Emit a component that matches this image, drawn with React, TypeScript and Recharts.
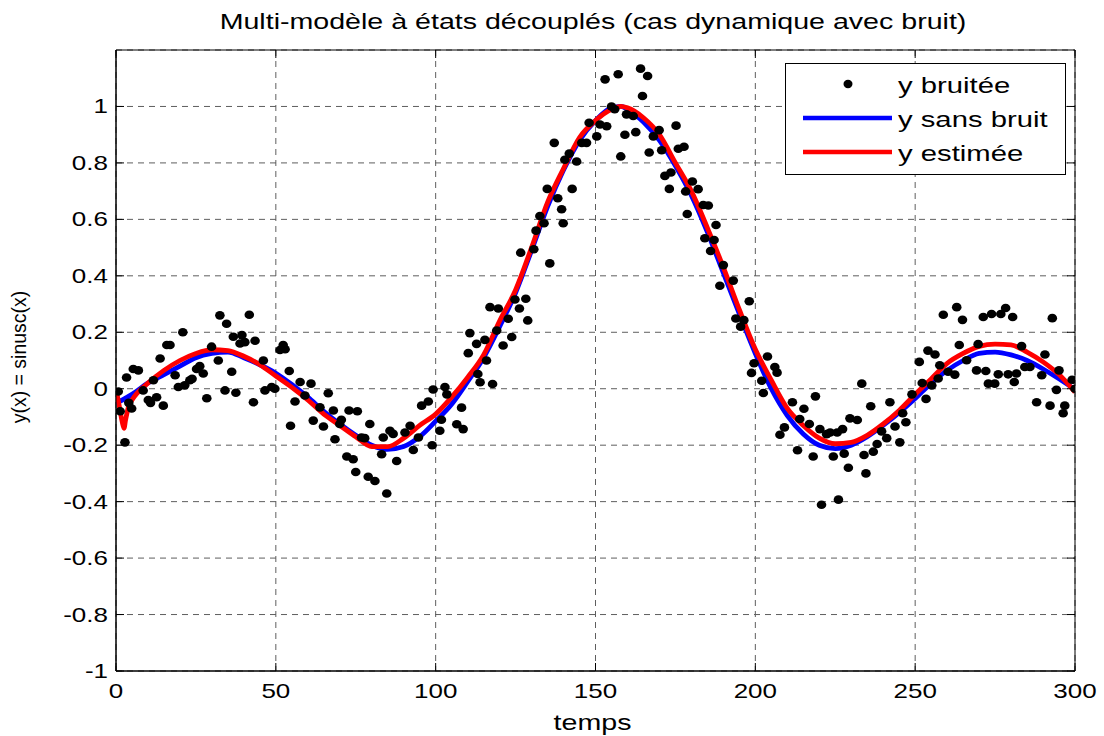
import React from 'react';
import {
  ComposedChart, Line, Scatter, XAxis, YAxis, CartesianGrid, Legend, ReferenceArea,
} from 'recharts';

// ---------- data ----------
const X_TICKS = [0, 50, 100, 150, 200, 250, 300];
const Y_TICKS = [-1, -0.8, -0.6, -0.4, -0.2, 0, 0.2, 0.4, 0.6, 0.8, 1];

const T_SANS_BRUIT = [0, 2, 5, 10, 15, 20, 25, 30, 35, 40, 45, 50, 55, 60, 65, 70, 75, 80, 85, 90, 95, 100, 105, 110, 115, 120, 125, 130, 135, 140, 145, 150, 155, 158, 160, 165, 170, 175, 180, 185, 190, 195, 200, 205, 210, 215, 220, 225, 230, 235, 240, 245, 250, 255, 260, 265, 270, 275, 280, 285, 290, 295, 300];
const Y_SANS_BRUIT = [-0.05, -0.04, -0.02, 0.02, 0.05, 0.08, 0.11, 0.125, 0.13, 0.11, 0.085, 0.055, 0.015, -0.03, -0.08, -0.125, -0.165, -0.2, -0.215, -0.205, -0.17, -0.115, -0.055, 0.025, 0.11, 0.22, 0.34, 0.49, 0.645, 0.775, 0.88, 0.95, 0.995, 1.0, 0.99, 0.945, 0.88, 0.79, 0.685, 0.555, 0.41, 0.265, 0.125, 0.0, -0.095, -0.16, -0.2, -0.212, -0.2, -0.17, -0.13, -0.085, -0.035, 0.02, 0.065, 0.1, 0.125, 0.13, 0.12, 0.1, 0.07, 0.035, -0.003];

const T_ESTIMEE = [0, 1, 2, 2.5, 3, 4, 5, 10, 15, 20, 25, 30, 35, 40, 45, 50, 55, 60, 65, 70, 75, 80, 85, 90, 95, 100, 105, 110, 115, 120, 125, 130, 135, 140, 145, 150, 155, 158, 160, 165, 170, 175, 180, 185, 190, 195, 200, 205, 210, 215, 220, 225, 230, 235, 240, 245, 250, 255, 260, 265, 270, 275, 280, 285, 290, 295, 300];
const Y_ESTIMEE = [0.0, -0.06, -0.12, -0.14, -0.11, -0.06, -0.04, 0.02, 0.065, 0.1, 0.125, 0.138, 0.135, 0.115, 0.085, 0.045, 0.005, -0.04, -0.09, -0.13, -0.17, -0.205, -0.205, -0.175, -0.13, -0.09, -0.03, 0.04, 0.12, 0.24, 0.35, 0.5, 0.66, 0.78, 0.89, 0.95, 0.99, 1.0, 0.995, 0.96, 0.9, 0.8, 0.7, 0.57, 0.43, 0.28, 0.14, 0.03, -0.07, -0.13, -0.175, -0.195, -0.19, -0.165, -0.125, -0.077, -0.02, 0.035, 0.09, 0.125, 0.15, 0.158, 0.155, 0.13, 0.095, 0.05, -0.012];

const T_BRUITEE = [0.7, 1.3, 2.8, 3.3, 4.0, 4.9, 5.4, 7.0, 8.5, 10.1, 10.8, 11.7, 12.7, 13.8, 14.8, 15.9, 16.9, 18.5, 19.5, 20.9, 21.5, 23.1, 23.8, 25.2, 26.2, 27.3, 28.4, 29.9, 32.0, 32.5, 34.1, 34.6, 36.2, 36.7, 37.5, 38.8, 39.4, 40.3, 41.7, 43.0, 43.5, 46.1, 46.6, 48.7, 49.7,
  51.3, 52.3, 52.9, 54.2, 54.6, 56.0, 57.6, 59.1, 61.0, 61.7, 63.8, 64.9, 66.4, 68.0, 68.5, 70.0, 70.5, 72.2, 72.9, 74.2, 75.0, 75.5, 76.8, 77.8, 78.9, 79.4, 81.0, 83.1, 83.6, 84.7, 85.7, 86.7, 87.8, 90.4, 92.0, 93.0, 94.6, 95.6, 97.7, 98.9, 99.2,
  101.3, 101.8, 102.9, 103.5, 106.6, 108.1, 108.6, 110.2, 110.7, 112.8, 113.2, 113.9, 115.4, 115.9, 117.0, 117.8, 119.1, 119.6, 121.1, 122.7, 123.8, 124.8, 126.2, 126.6, 128.2, 128.8, 130.7, 131.4, 132.6, 133.9, 134.9, 135.7, 137.1, 138.2, 139.4, 139.9, 140.4, 141.8, 142.7, 144.1, 145.7, 147.2, 148.0,
  150.4, 151.4, 153.0, 153.5, 155.0, 156.0, 157.1, 157.9, 159.2, 159.7, 161.8, 162.6, 164.1, 164.7, 166.3, 166.8, 168.1, 169.9, 170.7, 171.7, 173.1, 173.6, 175.2, 175.9, 177.7, 178.2, 178.7, 180.3, 182.1, 183.7, 184.2, 185.3, 186.0, 187.1, 187.7, 188.9, 190.0, 193.1, 193.9, 195.4, 196.4, 198.1, 198.8, 199.6,
  202.0, 202.5, 203.8, 206.1, 206.8, 207.7, 209.1, 211.6, 213.2, 213.9, 215.2, 216.9, 218.1, 218.8, 220.2, 220.7, 222.3, 223.4, 224.4, 225.6, 226.0, 227.3, 227.8, 229.1, 229.6, 231.9, 233.3, 234.0, 234.6, 236.1, 236.9, 238.1, 239.5, 241.1, 242.1, 243.7, 245.2, 246.1, 247.1, 249.0,
  251.3, 252.2, 253.4, 254.0, 255.2, 256.2, 257.2, 257.7, 258.8, 260.3, 262.4, 263.0, 263.8, 264.8, 266.1, 269.2, 269.7, 271.3, 272.1, 272.9, 273.9, 274.9, 276.0, 276.8, 278.3, 279.1, 280.5, 281.0, 281.7, 283.3, 284.3, 285.9, 288.0, 289.6, 290.6, 292.2, 292.9, 294.2, 295.0, 296.3, 296.8, 299.1, 300];
const Y_BRUITEE = [-0.01, -0.08, -0.19, 0.04, -0.05, -0.07, 0.07, 0.065, -0.006, -0.04, -0.05, 0.03, -0.03, 0.107, -0.06, 0.155, 0.155, 0.048, 0.006, 0.2, 0.012, 0.03, 0.035, 0.07, 0.08, 0.054, -0.034, 0.149, 0.1, 0.26, -0.006, 0.23, 0.06, 0.184, -0.014, 0.16, 0.19, 0.165, 0.262, -0.048, 0.17, 0.1, -0.006, 0.006, 0.0,
  0.137, 0.155, 0.14, 0.063, -0.131, -0.045, 0.024, -0.024, 0.018, -0.113, -0.066, -0.134, -0.016, -0.077, -0.179, -0.125, -0.11, -0.24, -0.077, -0.25, -0.295, -0.08, -0.173, -0.175, -0.312, -0.125, -0.327, -0.232, -0.173, -0.371, -0.149, -0.16, -0.256, -0.155, -0.131, -0.217, -0.173, -0.06, -0.045, -0.2, -0.003,
  -0.149, -0.11, 0.006, -0.02, -0.126, -0.067, -0.143, 0.126, 0.197, 0.159, 0.052, 0.023, 0.173, 0.1, 0.289, 0.017, 0.206, 0.284, 0.153, 0.248, 0.183, 0.316, 0.284, 0.482, 0.319, 0.242, 0.494, 0.56, 0.612, 0.586, 0.708, 0.444, 0.871, 0.675, 0.636, 0.586, 0.811, 0.833, 0.708, 0.805, 0.871, 0.871, 0.942,
  0.894, 0.936, 1.096, 0.93, 1.0, 0.99, 1.114, 0.823, 0.9, 0.972, 0.966, 0.909, 1.134, 1.037, 1.108, 0.837, 0.894, 0.916, 0.845, 0.754, 0.708, 0.766, 0.932, 0.85, 0.857, 0.699, 0.619, 0.734, 0.707, 0.651, 0.533, 0.649, 0.488, 0.527, 0.58, 0.365, 0.438, 0.383, 0.249, 0.22, 0.243, 0.31, 0.056, 0.09,
  0.028, -0.015, 0.114, 0.077, 0.057, -0.163, -0.137, -0.048, -0.218, -0.107, -0.071, -0.125, -0.24, -0.027, -0.143, -0.411, -0.161, -0.155, -0.24, -0.155, -0.393, -0.143, -0.23, -0.28, -0.105, -0.111, 0.018, -0.235, -0.3, -0.062, -0.223, -0.196, -0.151, -0.175, -0.048, -0.134, -0.19, -0.087, -0.119, -0.02,
  0.095, 0.02, -0.036, 0.135, 0.012, 0.121, 0.036, 0.083, 0.262, 0.06, 0.05, 0.289, 0.155, 0.244, 0.101, 0.065, 0.158, 0.254, 0.063, 0.018, 0.265, 0.018, 0.051, 0.265, 0.286, 0.051, 0.254, 0.024, 0.054, 0.151, 0.077, 0.077, -0.048, 0.048, 0.121, -0.06, 0.25, -0.004, 0.065, -0.087, -0.06, 0.032, 0.0];

const TITLE = 'Multi-modèle à états découplés (cas dynamique avec bruit)';
const X_LABEL = 'temps';
const Y_LABEL = 'y(x) = sinusc(x)';
const LEGEND_LABELS = ['y bruitée', 'y sans bruit', 'y estimée'];

const sansBruit = T_SANS_BRUIT.map((t, i) => ({ t, v: Y_SANS_BRUIT[i] }));
const estimee = T_ESTIMEE.map((t, i) => ({ t, v: Y_ESTIMEE[i] }));
const bruitee = T_BRUITEE.map((t, i) => ({ t, v: Y_BRUITEE[i] }));

// ---------- layout ----------
const W = 1104;
const H = 736;
const PLOT_LEFT = 116;
const PLOT_TOP = 50;
const PLOT_RIGHT = 1075;
const PLOT_BOTTOM = 671;
const TICK_LEN = 8;
const FONT = '"Liberation Sans", Arial, Helvetica, sans-serif';
const SX = 1.3;

const XTick = (props: any) => {
  const { x, payload } = props;
  return (
    <g>
      <line x1={x} x2={x} y1={PLOT_BOTTOM} y2={PLOT_BOTTOM - TICK_LEN} stroke="#000" strokeWidth={1} />
      <line x1={x} x2={x} y1={PLOT_TOP} y2={PLOT_TOP + TICK_LEN} stroke="#000" strokeWidth={1} />
      <text transform={`translate(${x} ${PLOT_BOTTOM + 27}) scale(${SX} 1)`} textAnchor="middle"
        fontSize={20} fontFamily={FONT} fill="#000">{String(payload.value)}</text>
    </g>
  );
};

const YTick = (props: any) => {
  const { y, payload } = props;
  return (
    <g>
      <line x1={PLOT_LEFT} x2={PLOT_LEFT + TICK_LEN} y1={y} y2={y} stroke="#000" strokeWidth={1} />
      <line x1={PLOT_RIGHT - TICK_LEN} x2={PLOT_RIGHT} y1={y} y2={y} stroke="#000" strokeWidth={1} />
      <text transform={`translate(${PLOT_LEFT - 8} ${y + 7}) scale(${SX} 1)`} textAnchor="end"
        fontSize={20} fontFamily={FONT} fill="#000">{String(payload.value)}</text>
    </g>
  );
};

const Dot = (props: any) => {
  const { cx, cy } = props;
  if (cx == null || cy == null) return null;
  return <ellipse cx={cx} cy={cy} rx={4.8} ry={4.3} fill="#000" />;
};

const LEG_L = 785;
const LEG_T = 63;
const LEG_W = 281;
const LEG_H = 112;

const LegendBox = () => {
  const rows = [21, 55, 89];
  const textStyle = { fontSize: 22, fontFamily: FONT, fill: '#000' } as any;
  return (
    <svg width={LEG_W} height={LEG_H} style={{ display: 'block' }}>
      <rect x={0.5} y={0.5} width={LEG_W - 1} height={LEG_H - 1} fill="#fff" stroke="#000" strokeWidth={1} />
      <ellipse cx={63} cy={rows[0]} rx={4.5} ry={4.2} fill="#000" />
      <line x1={18} x2={107} y1={rows[1]} y2={rows[1]} stroke="#0000ff" strokeWidth={4.5} />
      <line x1={18} x2={107} y1={rows[2]} y2={rows[2]} stroke="#ff0000" strokeWidth={4.5} />
      {LEGEND_LABELS.map((lab, i) => (
        <text key={lab} transform={`translate(113 ${rows[i] + 8.5}) scale(1.33 1)`} {...textStyle}>{lab}</text>
      ))}
    </svg>
  );
};

export default function App() {
  return (
    <div style={{ position: 'absolute', left: 0, top: 0, width: W, height: H, background: '#fff' }}>
      <ComposedChart width={W} height={H} margin={{ top: PLOT_TOP, right: W - PLOT_RIGHT, bottom: 0, left: 0 }}>
        <CartesianGrid stroke="#5e5e5e" strokeDasharray="6 5" strokeWidth={1} />
        <XAxis dataKey="t" type="number" domain={[0, 300]} ticks={X_TICKS} interval={0}
          height={H - PLOT_BOTTOM} axisLine={{ stroke: '#000' }} tickLine={false} tick={<XTick />} allowDataOverflow />
        <YAxis type="number" domain={[-1, 1.2]} ticks={Y_TICKS} interval={0} width={PLOT_LEFT}
          axisLine={{ stroke: '#000' }} tickLine={false} tick={<YTick />} allowDataOverflow />
        <ReferenceArea x1={0} x2={300} y1={-1} y2={1.2} fill="none" stroke="#000" strokeWidth={1} fillOpacity={0} />
        <Scatter data={bruitee} dataKey="v" fill="#000" shape={<Dot />} isAnimationActive={false} legendType="circle" name="y bruitée" />
        <Line data={sansBruit} dataKey="v" type="monotone" stroke="#0000ff" strokeWidth={4.8} dot={false}
          activeDot={false} isAnimationActive={false} name="y sans bruit" />
        <Line data={estimee} dataKey="v" type="monotone" stroke="#ff0000" strokeWidth={4.8} dot={false}
          activeDot={false} isAnimationActive={false} name="y estimée" />
        <Legend layout="vertical" align="center" verticalAlign="middle" content={() => <LegendBox />}
          wrapperStyle={{ position: 'absolute', left: LEG_L, top: LEG_T, width: LEG_W, height: LEG_H, margin: 0, padding: 0 }} />
      </ComposedChart>
      <svg width={W} height={H} style={{ position: 'absolute', left: 0, top: 0, pointerEvents: 'none' }}>
        <text transform={`translate(593 29) scale(1.3 1)`} textAnchor="middle" fontSize={22} fontFamily={FONT} fill="#000">{TITLE}</text>
        <text transform={`translate(592.5 730) scale(1.3 1)`} textAnchor="middle" fontSize={22} fontFamily={FONT} fill="#000">{X_LABEL}</text>
        <text transform="translate(26 357) rotate(-90)" textAnchor="middle" fontSize={19.5} fontFamily={FONT} fill="#000">{Y_LABEL}</text>
      </svg>
    </div>
  );
}
